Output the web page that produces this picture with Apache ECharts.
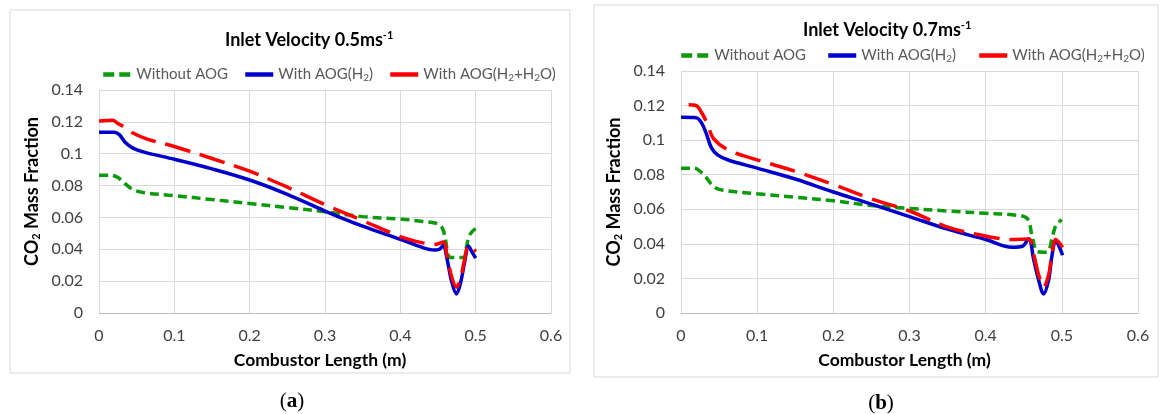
<!DOCTYPE html>
<html>
<head>
<meta charset="utf-8">
<script src="https://cdn.jsdelivr.net/npm/echarts@6/dist/echarts.min.js"></script>
<style>
  html, body { margin: 0; padding: 0; background: #fff; }
  #main { width: 1161px; height: 414px; }
</style>
</head>
<body>
<div id="main"></div>
<script>
// x = combustor length (m), y = CO2 mass fraction
var xTicks = [0, 0.1, 0.2, 0.3, 0.4, 0.5, 0.6];
var yTicks = [0, 0.02, 0.04, 0.06, 0.08, 0.1, 0.12, 0.14];
var seriesNames = ['Without AOG', 'With AOG(H2)', 'With AOG(H2+H2O)'];

// (a) inlet velocity 0.5 m/s
var aWithout = [[0,0.0865],[0.015,0.0865],[0.025,0.085],[0.035,0.081],[0.045,0.0775],[0.06,0.0755],[0.1,0.0737],[0.15,0.0712],[0.2,0.0688],[0.25,0.0662],[0.3,0.0636],[0.35,0.0605],[0.4,0.059],[0.43,0.0575],[0.446,0.0565],[0.455,0.054],[0.46,0.046],[0.4635,0.036],[0.468,0.0348],[0.484,0.0348],[0.488,0.042],[0.491,0.048],[0.495,0.051],[0.5,0.053]];
var aH2 = [[0,0.1135],[0.02,0.1135],[0.027,0.112],[0.035,0.107],[0.045,0.1035],[0.06,0.101],[0.1,0.0965],[0.15,0.0905],[0.2,0.0835],[0.25,0.0745],[0.3,0.064],[0.35,0.0545],[0.4,0.0462],[0.43,0.041],[0.445,0.0395],[0.452,0.040],[0.457,0.0425],[0.462,0.034],[0.468,0.02],[0.4745,0.012],[0.48,0.019],[0.485,0.031],[0.4905,0.042],[0.4955,0.038],[0.5,0.0345]];
var aH2O = [[0,0.1205],[0.018,0.121],[0.025,0.119],[0.035,0.1165],[0.045,0.113],[0.065,0.109],[0.1,0.1045],[0.15,0.097],[0.2,0.089],[0.25,0.079],[0.3,0.068],[0.35,0.058],[0.4,0.048],[0.43,0.044],[0.445,0.043],[0.457,0.0445],[0.462,0.036],[0.468,0.023],[0.4745,0.0163],[0.48,0.022],[0.485,0.033],[0.4905,0.0425],[0.4955,0.041],[0.5,0.0385]];

// (b) inlet velocity 0.7 m/s
var bWithout = [[0,0.0838],[0.018,0.0838],[0.025,0.082],[0.033,0.0785],[0.04,0.0745],[0.05,0.0715],[0.1,0.069],[0.15,0.067],[0.2,0.0649],[0.25,0.0622],[0.3,0.0605],[0.35,0.059],[0.4,0.0577],[0.435,0.0568],[0.4543,0.0548],[0.4609,0.0446],[0.4674,0.0357],[0.476,0.0352],[0.4826,0.036],[0.487,0.043],[0.4915,0.05],[0.4957,0.0524],[0.5,0.054]];
var bH2 = [[0,0.1132],[0.02,0.113],[0.027,0.11],[0.033,0.104],[0.04,0.0955],[0.048,0.0915],[0.062,0.0885],[0.1,0.0838],[0.15,0.0775],[0.2,0.07],[0.25,0.063],[0.3,0.0558],[0.35,0.0485],[0.4,0.0425],[0.435,0.038],[0.448,0.0385],[0.4565,0.043],[0.463,0.031],[0.4696,0.019],[0.476,0.011],[0.4826,0.019],[0.487,0.033],[0.492,0.042],[0.4978,0.037],[0.501,0.0334]];
var bH2O = [[0.01,0.1205],[0.02,0.12],[0.027,0.116],[0.035,0.109],[0.0425,0.101],[0.062,0.0943],[0.1,0.0886],[0.15,0.082],[0.2,0.0743],[0.25,0.066],[0.3,0.059],[0.35,0.0497],[0.4,0.0445],[0.435,0.0425],[0.4565,0.0428],[0.463,0.034],[0.4696,0.022],[0.476,0.015],[0.4826,0.022],[0.487,0.034],[0.492,0.0425],[0.4978,0.04],[0.501,0.038]];

var FONT = 'Lato';
var colors = ['#0a9a0a', '#0000cc', '#ff0000'];
var lineStyles = [
    { color: colors[0], width: 3.5, type: [9, 5] },
    { color: colors[1], width: 3.5, type: 'solid' },
    { color: colors[2], width: 3.5, type: [26, 10] }
];

function legendFmt(name) {
    if (name === 'With AOG(H2)') return '{n|With AOG(H}{s|2}{n|)}';
    if (name === 'With AOG(H2+H2O)') return '{n|With AOG(H}{s|2}{n|+H}{s|2}{n|O)}';
    return '{n|' + name + '}';
}
var legendRich = {
    n: { fontFamily: FONT, fontSize: 15, color: '#595959' },
    s: { fontFamily: FONT, fontSize: 10, color: '#595959', padding: [7, 0, 0, 0] }
};
// one legend per entry so each sits where the original puts it
function legendItem(i, left, top) {
    return {
        data: [seriesNames[i]], left: left, top: top,
        itemWidth: 28, itemHeight: 12,
        itemStyle: { opacity: 0 },
        lineStyle: { width: 4.5, type: i === 0 ? [11, 5] : 'solid' },
        formatter: legendFmt, textStyle: { rich: legendRich }
    };
}
function titleRich() {
    return {
        t: { fontFamily: FONT, fontSize: 18, fontWeight: 'bold', color: '#000' },
        p: { fontFamily: FONT, fontSize: 11, fontWeight: 'bold', color: '#000', padding: [0, 0, 9, 0] }
    };
}

function xAxisFor(idx) {
    return {
        gridIndex: idx, type: 'value', min: 0, max: 0.6, interval: 0.1,
        name: 'Combustor Length (m)', nameLocation: 'middle', nameGap: 38,
        nameTextStyle: { fontFamily: FONT, fontSize: 17.5, fontWeight: 'bold', color: '#000', padding: [0, 10, 0, 0] },
        axisLine: { show: true, lineStyle: { color: '#bfbfbf' } },
        axisTick: { show: false },
        axisLabel: { fontFamily: FONT, fontSize: 16, color: '#404040', margin: 15 },
        splitLine: { show: true, lineStyle: { color: '#d9d9d9' } }
    };
}
function yAxisFor(idx, shift) {
    return {
        gridIndex: idx, type: 'value', min: 0, max: 0.14, interval: 0.02,
        name: '{b|CO}{s|2}{b| Mass Fraction}', nameLocation: 'middle', nameGap: 57, nameRotate: 90,
        nameTextStyle: {
            padding: [0, 0, 0, shift],
            rich: {
                b: { fontFamily: FONT, fontSize: 18, fontWeight: 'bold', color: '#000' },
                s: { fontFamily: FONT, fontSize: 11, fontWeight: 'bold', color: '#000', padding: [8, 0, 0, 0] }
            }
        },
        axisLine: { show: false },
        axisTick: { show: false },
        axisLabel: { fontFamily: FONT, fontSize: 16, color: '#404040', margin: 16 },
        splitLine: { show: true, lineStyle: { color: '#d9d9d9' } }
    };
}
function lineSeries(i, idx, data) {
    return {
        name: seriesNames[i], type: 'line', xAxisIndex: idx, yAxisIndex: idx,
        data: data, smooth: 0.35, symbol: 'none', silent: true,
        itemStyle: { color: colors[i] },
        lineStyle: lineStyles[i]
    };
}

var chart = echarts.init(document.getElementById('main'));
var option = {
    backgroundColor: '#fff',
    animation: false,
    title: [
        { text: '{t|Inlet Velocity 0.5ms}{p|-1}', left: 220, top: 25,
          textStyle: { rich: titleRich() } },
        { text: '{t|Inlet Velocity 0.7ms}{p|-1}', left: 798, top: 15,
          textStyle: { rich: titleRich() } },
        { text: '({b|a})', left: 287, top: 386, textAlign: 'center',
          textStyle: { fontFamily: 'Liberation Serif', fontSize: 21, fontWeight: 'normal', color: '#000',
              rich: { b: { fontFamily: 'Liberation Serif', fontSize: 21, fontWeight: 'bold', color: '#000' } } } },
        { text: '({b|b})', left: 876, top: 388, textAlign: 'center',
          textStyle: { fontFamily: 'Liberation Serif', fontSize: 21, fontWeight: 'normal', color: '#000',
              rich: { b: { fontFamily: 'Liberation Serif', fontSize: 21, fontWeight: 'bold', color: '#000' } } } }
    ],
    legend: [
        legendItem(0, 96, 62), legendItem(1, 238, 62), legendItem(2, 383, 62),
        legendItem(0, 674, 43), legendItem(1, 821, 43), legendItem(2, 972, 43)
    ],
    grid: [
        { left: 99, top: 90, width: 452, height: 223 },
        { left: 681, top: 71, width: 457, height: 242 }
    ],
    xAxis: [xAxisFor(0), xAxisFor(1)],
    yAxis: [yAxisFor(0, 20), yAxisFor(1, 0)],
    graphic: [
        { type: 'rect', shape: { x: 10, y: 10, width: 560, height: 363 }, z: -1,
          style: { fill: 'none', stroke: '#d9d9d9', lineWidth: 1 } },
        { type: 'rect', shape: { x: 594, y: 5, width: 564, height: 372 }, z: -1,
          style: { fill: 'none', stroke: '#d9d9d9', lineWidth: 1 } }
    ],
    series: [
        lineSeries(0, 0, aWithout),
        lineSeries(1, 0, aH2),
        lineSeries(2, 0, aH2O),
        lineSeries(0, 1, bWithout),
        lineSeries(1, 1, bH2),
        lineSeries(2, 1, bH2O)
    ]
};
chart.setOption(option);
</script>
</body>
</html>
